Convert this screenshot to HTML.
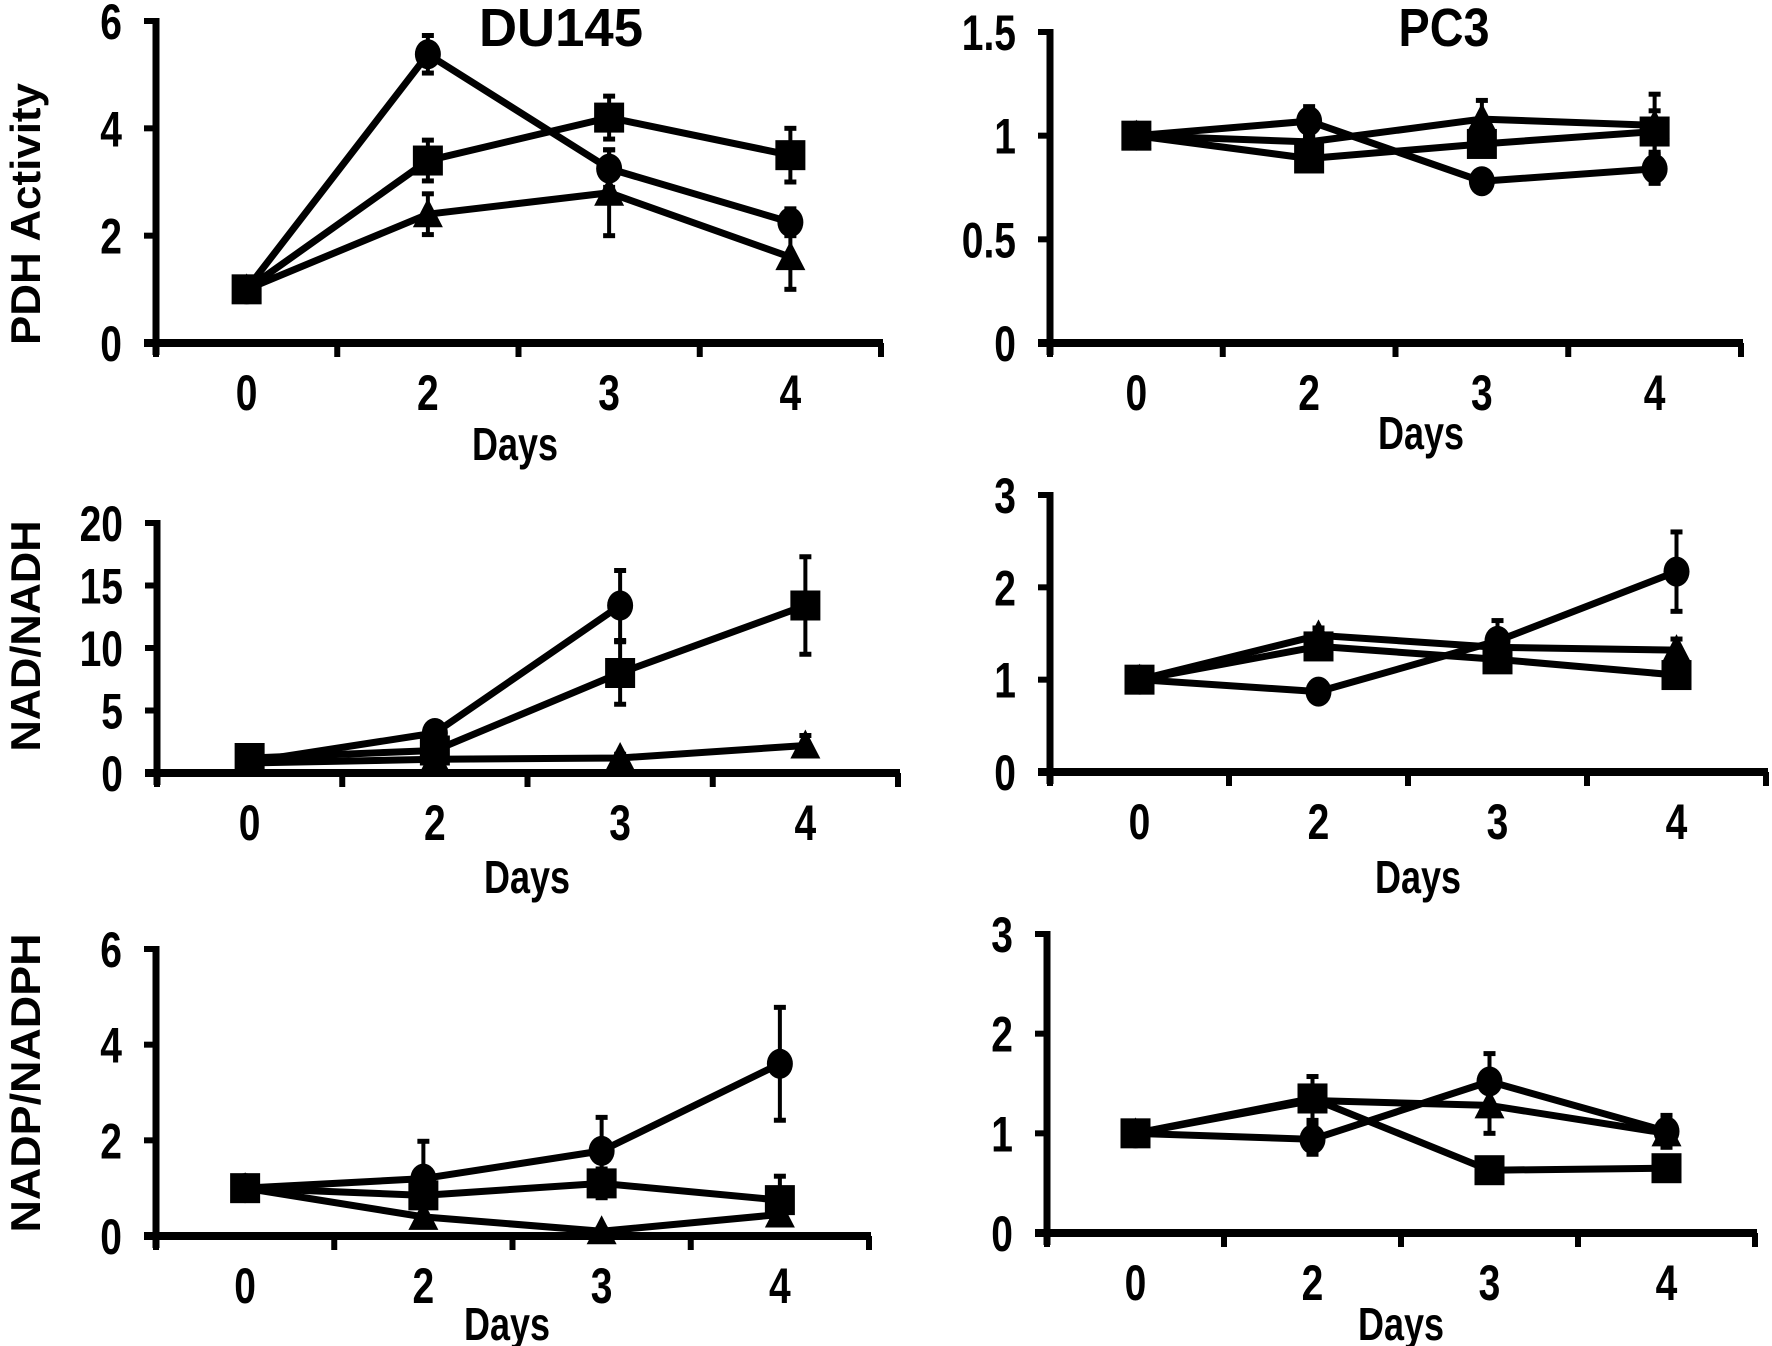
<!DOCTYPE html>
<html><head><meta charset="utf-8"><style>
html,body{margin:0;padding:0;background:#fff;}
svg{display:block;}
text{font-family:"Liberation Sans Narrow","Liberation Sans",sans-serif;font-weight:bold;fill:#000;}
</style></head><body>
<svg id="fig" width="1772" height="1346" viewBox="0 0 1772 1346" xmlns="http://www.w3.org/2000/svg"></svg>
<script>
// Shared categories
const days = ["0","2","3","4"];
// Panel A: DU145 PDH activity
const aTicks = [0,2,4,6];
const aCircle = [1,5.38,3.25,2.25];
const aCircleErr = [0,0.35,0.35,0.25];
const aSquare = [1,3.4,4.2,3.5];
const aSquareErr = [0,0.38,0.4,0.5];
const aTri = [1,2.4,2.8,1.6];
const aTriErr = [0,0.38,0.8,0.6];
// Panel B: PC3 PDH activity
const bTicks = [0,0.5,1,1.5];
const bCircle = [1,1.07,0.78,0.84];
const bCircleErr = [0,0.07,0.02,0.07];
const bSquare = [1,0.89,0.96,1.02];
const bSquareErr = [0,0.03,0.04,0.1];
const bTri = [1,0.97,1.08,1.05];
const bTriErr = [0,0.03,0.09,0.15];
// Panel C: DU145 NAD/NADH
const cTicks = [0,5,10,15,20];
const cCircle = [0.9,3.2,13.4,null];
const cCircleErr = [0,0.5,2.8,0];
const cSquare = [1.2,1.8,8,13.4];
const cSquareErr = [0,0.3,2.5,3.9];
const cTri = [0.8,1.1,1.2,2.2];
const cTriErr = [0,0.2,0.3,0.8];
// Panel D: PC3 NAD/NADH
const dTicks = [0,1,2,3];
const dCircle = [1,0.87,1.42,2.17];
const dCircleErr = [0,0.04,0.22,0.43];
const dSquare = [1,1.36,1.22,1.05];
const dSquareErr = [0,0.05,0.08,0.06];
const dTri = [1,1.48,1.35,1.32];
const dTriErr = [0,0.08,0.1,0.12];
// Panel E: DU145 NADP/NADPH
const eTicks = [0,2,4,6];
const eCircle = [1,1.2,1.78,3.6];
const eCircleErr = [0,0.78,0.7,1.18];
const eSquare = [1,0.85,1.1,0.75];
const eSquareErr = [0,0.2,0.3,0.5];
const eTri = [1,0.4,0.1,0.45];
const eTriErr = [0,0.05,0.05,0.05];
// Panel F: PC3 NADP/NADPH
const fTicks = [0,1,2,3];
const fCircle = [1,0.94,1.52,1.02];
const fCircleErr = [0,0.15,0.28,0.16];
const fSquare = [1,1.35,0.63,0.65];
const fSquareErr = [0,0.22,0.05,0.05];
const fTri = [1,1.33,1.28,1.0];
const fTriErr = [0,0.1,0.28,0.1];

const NS="http://www.w3.org/2000/svg";
const svg=document.getElementById('fig');
function mk(tag,attrs,parent){const e=document.createElementNS(NS,tag);for(const k in attrs)e.setAttribute(k,attrs[k]);(parent||svg).appendChild(e);return e;}

function panel(cfg){
  const g=mk('g',{});
  
  
  const ymax=cfg.ticks[cfg.ticks.length-1];
  const ys=v=>cfg.y0-(v/ymax)*(cfg.y0-cfg.yTop);
  const bw=(cfg.right-cfg.left)/days.length;
  const xs=i=>cfg.left+bw*(i+0.5);
  const ya=mk('line',{x1:cfg.left,y1:cfg.yTop-3,x2:cfg.left,y2:cfg.y0+12,stroke:'#000','stroke-width':7},g);
  
  
  const xa=mk('line',{x1:cfg.left-12,y1:cfg.y0,x2:cfg.right+2,y2:cfg.y0,stroke:'#000','stroke-width':8},g);
  
  
  cfg.ticks.forEach(t=>{
    mk('line',{x1:cfg.left-12,y1:ys(t),x2:cfg.left,y2:ys(t),stroke:'#000','stroke-width':6},g);
    const tl=mk('text',{x:0,y:0,'text-anchor':'end','font-size':50,transform:`translate(${cfg.left-34},${ys(t)+18}) scale(0.78,1)`},g);
    tl.textContent=String(t);
    
    
  });
  for(let i=0;i<=days.length;i++){
    const x=cfg.left+bw*i;
    mk('line',{x1:x,y1:cfg.y0,x2:x,y2:cfg.y0+14,stroke:'#000','stroke-width':6},g);
  }
  days.forEach((d,i)=>{
    const tl=mk('text',{x:0,y:0,'text-anchor':'middle','font-size':50,transform:`translate(${xs(i)},${cfg.y0+67}) scale(0.78,1)`},g);
    tl.textContent=d;
    
    
  });
  const dl=mk('text',{x:cfg.daysX,y:cfg.daysY,'text-anchor':'middle','font-size':46,textLength:86,lengthAdjust:'spacingAndGlyphs'},g);
  dl.textContent='Days';
  
  
  if(cfg.ylabel){
    const yl=mk('text',{x:0,y:0,'text-anchor':'middle','font-size':42,transform:`translate(${cfg.ylx},${cfg.yly}) rotate(-90)`,textLength:cfg.yllen,lengthAdjust:'spacingAndGlyphs',style:'font-family:"Liberation Sans",sans-serif'},g);
    yl.textContent=cfg.ylabel;
    
    
  }
  if(cfg.title){
    const tt=mk('text',{x:cfg.titleX,y:46,'text-anchor':'middle','font-size':54,textLength:cfg.titleLen,lengthAdjust:'spacingAndGlyphs'},g);
    tt.textContent=cfg.title;
    
    
  }
  const series=[['circle',cfg.circle,cfg.circleErr],['square',cfg.square,cfg.squareErr],['triangle',cfg.tri,cfg.triErr]];
  series.forEach(([kind,vals])=>{
    let pts=[];
    vals.forEach((v,i)=>{if(v!==null)pts.push(xs(i)+','+ys(v));});
    const pl=mk('polyline',{points:pts.join(' '),fill:'none',stroke:'#000','stroke-width':7,'stroke-linejoin':'round'},g);
    
    
  });
  series.forEach(([kind,vals,errs])=>{
    vals.forEach((v,i)=>{
      if(v===null||!errs[i])return;
      const x=xs(i),t=ys(v+errs[i]),b=ys(Math.max(0,v-errs[i]));
      const eb=mk('g',{},g);
      
      
      mk('line',{x1:x,y1:t,x2:x,y2:b,stroke:'#000','stroke-width':4},eb);
      mk('line',{x1:x-6,y1:t,x2:x+6,y2:t,stroke:'#000','stroke-width':5},eb);
      mk('line',{x1:x-6,y1:b,x2:x+6,y2:b,stroke:'#000','stroke-width':5},eb);
    });
  });
  series.forEach(([kind,vals])=>{
    vals.forEach((v,i)=>{
      if(v===null)return;
      const x=xs(i),y=ys(v);let m;
      if(kind==='circle')m=mk('ellipse',{cx:x,cy:y,rx:13,ry:15,fill:'#000'},g);
      else if(kind==='square')m=mk('rect',{x:x-15,y:y-15,width:30,height:30,fill:'#000'},g);
      else m=mk('polygon',{points:`${x},${y-16} ${x+15},${y+13} ${x-15},${y+13}`,fill:'#000'},g);
      
      
    });
  });
}

panel({name:'du145-pdh-panel',left:156,right:881,y0:343,yTop:21,ticks:aTicks,circle:aCircle,circleErr:aCircleErr,square:aSquare,squareErr:aSquareErr,tri:aTri,triErr:aTriErr,daysX:515,daysY:460,ylabel:'PDH Activity',ylx:40,yly:214,yllen:262,title:'DU145',titleX:561,titleLen:164});
panel({name:'pc3-pdh-panel',left:1050,right:1741,y0:343,yTop:32,ticks:bTicks,circle:bCircle,circleErr:bCircleErr,square:bSquare,squareErr:bSquareErr,tri:bTri,triErr:bTriErr,daysX:1421,daysY:449,title:'PC3',titleX:1444,titleLen:91});
panel({name:'du145-nad-panel',left:157,right:898,y0:773,yTop:523,ticks:cTicks,circle:cCircle,circleErr:cCircleErr,square:cSquare,squareErr:cSquareErr,tri:cTri,triErr:cTriErr,daysX:527,daysY:893,ylabel:'NAD/NADH',ylx:40,yly:636,yllen:231});
panel({name:'pc3-nad-panel',left:1050,right:1766,y0:772,yTop:495,ticks:dTicks,circle:dCircle,circleErr:dCircleErr,square:dSquare,squareErr:dSquareErr,tri:dTri,triErr:dTriErr,daysX:1418,daysY:893});
panel({name:'du145-nadp-panel',left:156,right:869,y0:1236,yTop:949,ticks:eTicks,circle:eCircle,circleErr:eCircleErr,square:eSquare,squareErr:eSquareErr,tri:eTri,triErr:eTriErr,daysX:507,daysY:1340,ylabel:'NADP/NADPH',ylx:40,yly:1083,yllen:299});
panel({name:'pc3-nadp-panel',left:1047,right:1755,y0:1233,yTop:934,ticks:fTicks,circle:fCircle,circleErr:fCircleErr,square:fSquare,squareErr:fSquareErr,tri:fTri,triErr:fTriErr,daysX:1401,daysY:1340});
</script>
</body></html>
